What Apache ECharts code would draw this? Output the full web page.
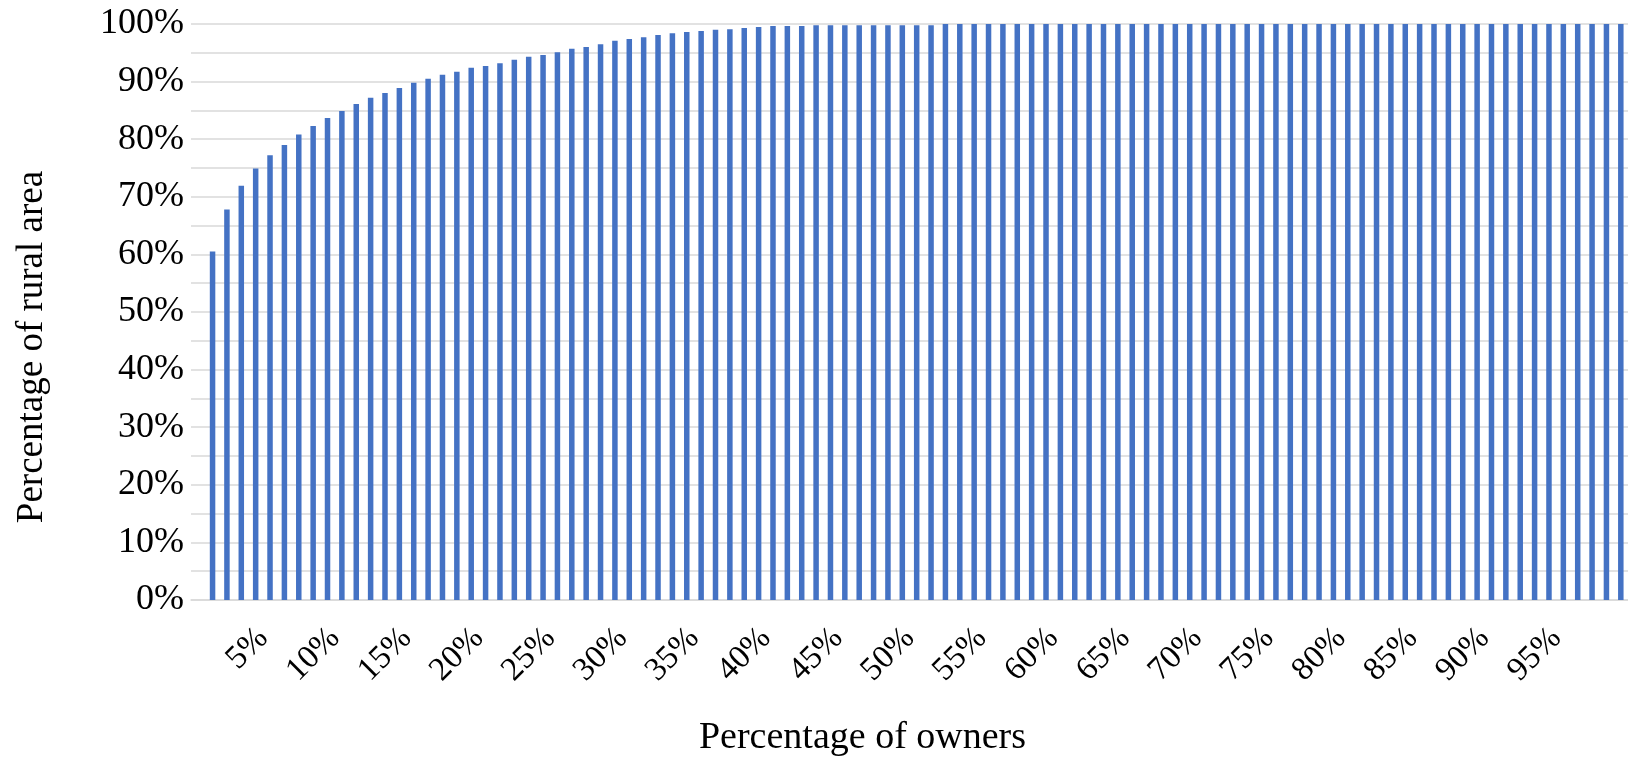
<!DOCTYPE html>
<html>
<head>
<meta charset="utf-8">
<script src="https://cdn.jsdelivr.net/npm/echarts@6/dist/echarts.min.js"></script>
<style>
html,body{margin:0;padding:0;background:#fff;}
#chart{width:1628px;height:764px;}
</style>
</head>
<body>
<div id="chart"></div>
<script>
// Categories: share of owners (index 0 is an empty slot, as in the reference)
const ownerCategories = ['', '1%','2%','3%','4%','5%','6%','7%','8%','9%','10%',
  '11%','12%','13%','14%','15%','16%','17%','18%','19%','20%',
  '21%','22%','23%','24%','25%','26%','27%','28%','29%','30%',
  '31%','32%','33%','34%','35%','36%','37%','38%','39%','40%',
  '41%','42%','43%','44%','45%','46%','47%','48%','49%','50%',
  '51%','52%','53%','54%','55%','56%','57%','58%','59%','60%',
  '61%','62%','63%','64%','65%','66%','67%','68%','69%','70%',
  '71%','72%','73%','74%','75%','76%','77%','78%','79%','80%',
  '81%','82%','83%','84%','85%','86%','87%','88%','89%','90%',
  '91%','92%','93%','94%','95%','96%','97%','98%','99%'];

// Cumulative share of rural area (%)
const ruralAreaShare = [null,
  60.5, 67.8, 71.9, 74.9, 77.2, 79.0, 80.8, 82.3, 83.7, 84.9,
  86.1, 87.2, 88.0, 88.9, 89.8, 90.5, 91.2, 91.7, 92.4, 92.7,
  93.2, 93.8, 94.3, 94.6, 95.1, 95.7, 96.0, 96.5, 97.1, 97.4,
  97.7, 98.1, 98.4, 98.6, 98.8, 99.0, 99.1, 99.3, 99.5, 99.65,
  99.65, 99.65, 99.8, 99.8, 99.8, 99.8, 99.8, 99.8, 99.8, 99.8,
  99.8, 100, 100, 100, 100, 100, 100, 100, 100, 100,
  100, 100, 100, 100, 100, 100, 100, 100, 100, 100,
  100, 100, 100, 100, 100, 100, 100, 100, 100, 100,
  100, 100, 100, 100, 100, 100, 100, 100, 100, 100,
  100, 100, 100, 100, 100, 100, 100, 100, 100];

// Shown x tick labels
const xTickLabels = ['5%','10%','15%','20%','25%','30%','35%','40%','45%','50%',
  '55%','60%','65%','70%','75%','80%','85%','90%','95%'];
// Shown y tick labels (every other gridline)
const yTickLabels = ['0%','10%','20%','30%','40%','50%','60%','70%','80%','90%','100%'];

const FONT = '"Liberation Serif", "DejaVu Serif", serif';
const chart = echarts.init(document.getElementById('chart'));
chart.setOption({
  animation: false,
  backgroundColor: '#fff',
  grid: {left: 191, top: 24, width: 1438, height: 576, containLabel: false},
  xAxis: {
    type: 'category',
    data: ownerCategories,
    boundaryGap: true,
    axisLine: {show: true, lineStyle: {color: '#d9d9d9', width: 1.5}},
    axisTick: {show: false},
    axisLabel: {
      interval: 0,
      rotate: 45,
      margin: 26,
      padding: [0, 10, 0, 0],
      color: '#000',
      fontFamily: FONT,
      fontSize: 33,
      formatter: v => xTickLabels.includes(v) ? v : ''
    },
    name: 'Percentage of owners',
    nameLocation: 'middle',
    nameGap: 119,
    nameTextStyle: {color: '#000', fontFamily: FONT, fontSize: 38, padding: [0, 94, 0, 0]}
  },
  yAxis: {
    type: 'value',
    min: 0,
    max: 100,
    interval: 5,
    axisLine: {show: false},
    axisTick: {show: false},
    splitLine: {show: true, lineStyle: {color: '#d9d9d9', width: 1.5}},
    axisLabel: {
      margin: 7,
      color: '#000',
      fontFamily: FONT,
      fontSize: 36,
      formatter: v => yTickLabels.includes(v + '%') ? v + '%' : ''
    },
    name: 'Percentage of rural area',
    nameLocation: 'middle',
    nameGap: 140,
    nameRotate: 90,
    nameTextStyle: {color: '#000', fontFamily: FONT, fontSize: 37, padding: [0, 70, 0, 0]}
  },
  series: [{
    type: 'bar',
    data: ruralAreaShare,
    barWidth: 5.5,
    itemStyle: {color: '#4472C4'}
  }]
});
</script>
</body>
</html>
